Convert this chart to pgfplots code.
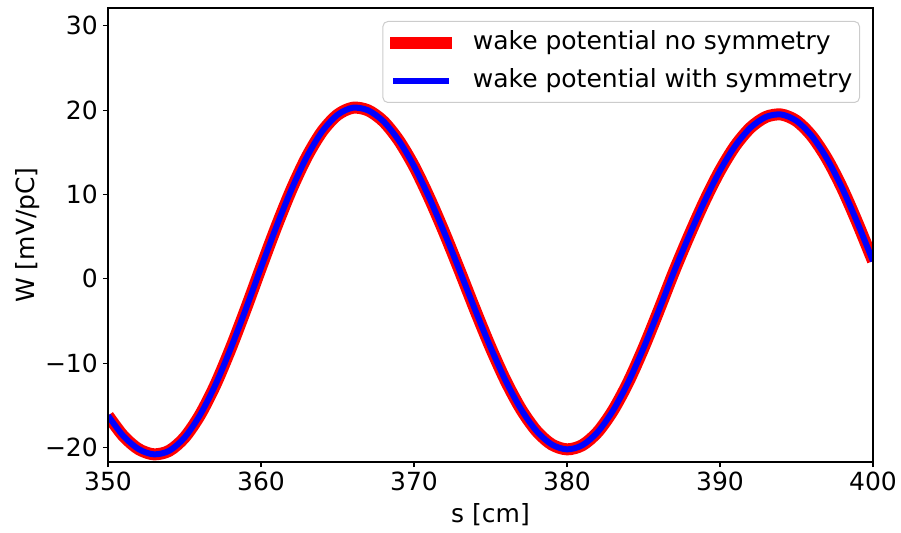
\documentclass[border=0pt]{standalone}
\usepackage{fontspec}
\setmainfont{DejaVu Sans}
\usepackage{pgfplots}
\pgfplotsset{compat=1.18}
\usepackage{pgfplotstable}

% wake potential W [mV/pC] along s [cm]
\pgfplotstableread{
s     nosym   sym
350  -16.20  -16.20
351  -18.61  -18.61
352  -20.17  -20.17
353  -20.79  -20.79
354  -20.37  -20.37
355  -18.81  -18.81
356  -16.17  -16.17
357  -12.63  -12.63
358   -8.34   -8.34
359   -3.61   -3.61
360    1.33    1.33
361    6.16    6.16
362   10.63   10.63
363   14.48   14.48
364   17.48   17.48
365   19.44   19.44
366   20.28   20.28
367   19.97   19.97
368   18.67   18.67
369   16.42   16.42
370   13.36   13.36
371    9.60    9.60
372    5.40    5.40
373    0.91    0.91
374   -3.69   -3.69
375   -8.10   -8.10
376  -12.10  -12.10
377  -15.46  -15.46
378  -18.01  -18.01
379  -19.62  -19.62
380  -20.20  -20.20
381  -19.71  -19.71
382  -18.16  -18.16
383  -15.62  -15.62
384  -12.26  -12.26
385   -8.21   -8.21
386   -3.74   -3.74
387    0.88    0.88
388    5.19    5.19
389    9.24    9.24
390   12.83   12.83
391   15.78   15.78
392   17.93   17.93
393   19.19   19.19
394   19.48   19.48
395   18.72   18.72
396   16.93   16.93
397   14.21   14.21
398   10.70   10.70
399    6.56    6.56
400    2.11    2.11
}\wakedata

\begin{document}
\fontsize{25}{30}\selectfont
\begin{tikzpicture}
\begin{axis}[
  scale only axis, width=765pt, height=454pt,
  xmin=350, xmax=400, ymin=-21.7, ymax=32.1,
  xtick={350,360,370,380,390,400},
  xticklabels={350,360,370,380,390,400},
  ytick={-20,-10,0,10,20,30},
  yticklabels={−20,−10,0,10,20,30},
  tick align=outside, tick pos=left,
  major tick length=5pt,
  tick style={black, line width=1.1pt},
  axis line style={black, line width=1.1pt},
  axis on top,
  ticklabel style={font=\fontsize{25}{30}\selectfont, inner sep=0pt},
  xticklabel style={yshift=-5pt},
  yticklabel style={xshift=-5pt},
  xlabel={s [cm]}, ylabel={W [mV/pC]},
  label style={font=\fontsize{25}{30}\selectfont},
  xlabel style={at={(axis description cs:0.5,-0.1167)}, anchor=center},
  ylabel style={at={(axis description cs:-0.1046,0.5)}, anchor=center},
  % line sample plus the gap before the entry text
  legend image code/.code={%
    \draw[#1, line cap=rect] (0pt,0pt) -- (50pt,0pt);
    \path (71pt,0pt);},
  legend style={
    at={(axis description cs:0.983,0.9714)}, anchor=north east,
    draw=black!20, line width=1pt, rounded corners=5pt,
    fill=white, fill opacity=0.8, text opacity=1,
    inner xsep=7pt, inner ysep=9pt,
    font=\fontsize{25}{30}\selectfont,
    row sep=13pt, column sep=0pt,
    nodes={inner sep=0pt, text height=19pt, text depth=6pt},
  },
  legend cell align=left,
]
\addplot[red, line width=12pt, smooth, line join=round] table[x=s, y=nosym] {\wakedata};
\addlegendentry{wake potential no symmetry}
\addplot[blue, line width=6pt, smooth, line join=round] table[x=s, y=sym] {\wakedata};
\addlegendentry{wake potential with symmetry}
\end{axis}
\pgfresetboundingbox
\path ([shift={(-108pt,-70pt)}]current axis.south west)
  rectangle ([shift={(28pt,8pt)}]current axis.north east);
\end{tikzpicture}
\end{document}
